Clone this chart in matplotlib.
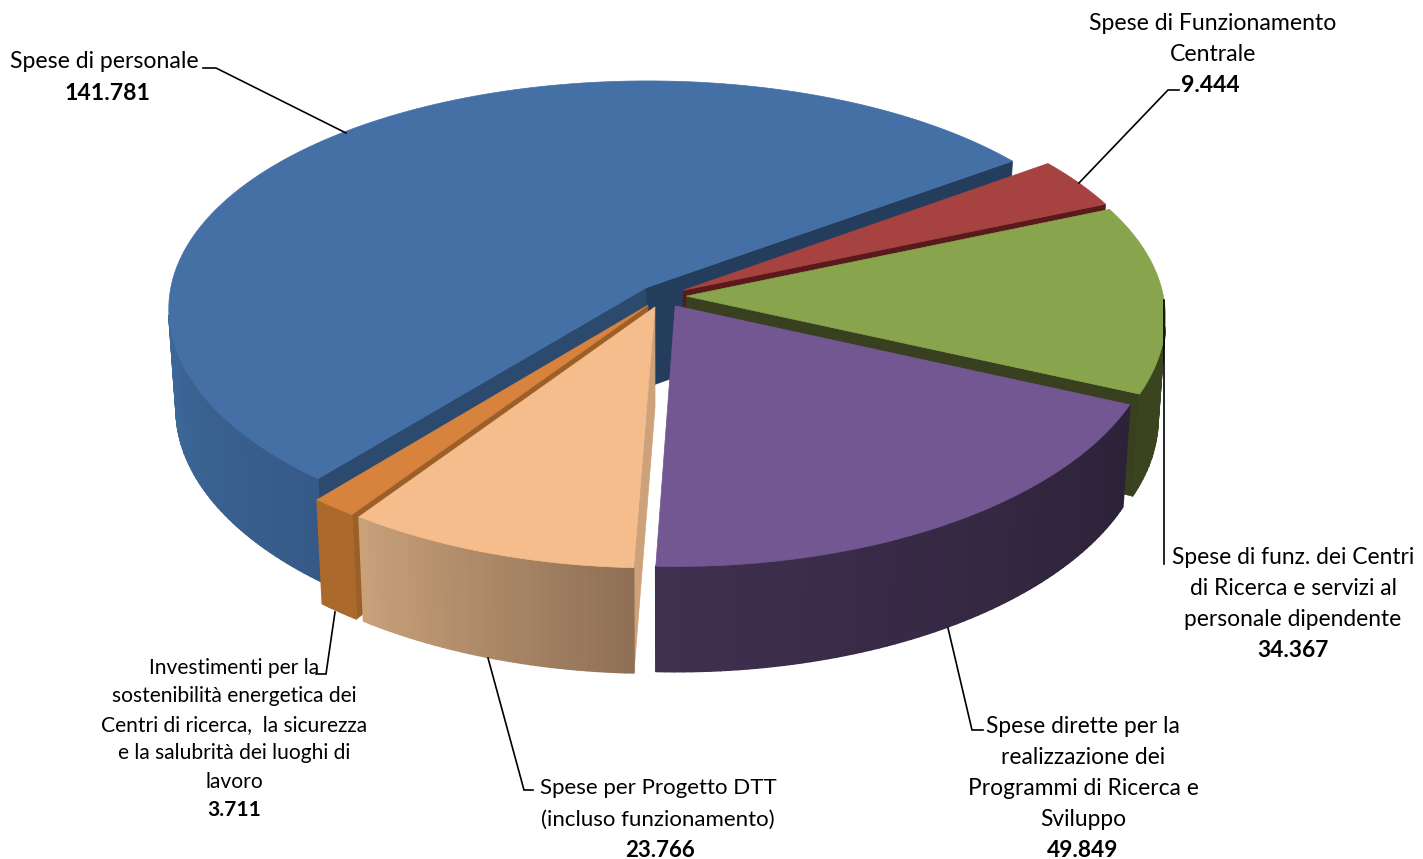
import numpy as np
import matplotlib
matplotlib.use("Agg")
import matplotlib.pyplot as plt
from matplotlib.collections import PolyCollection
from matplotlib.colors import to_rgb
from matplotlib.patches import Polygon

# values, clockwise starting from the red slice
values = [9444, 34367, 49849, 23766, 3711, 141781]
value_labels = ["9.444", "34.367", "49.849", "23.766", "3.711", "141.781"]
label_lines = [
    ["Spese di Funzionamento", "Centrale"],
    ["Spese di funz. dei Centri", "di Ricerca e servizi al", "personale dipendente"],
    ["Spese dirette per la", "realizzazione dei", "Programmi di Ricerca e", "Sviluppo"],
    ["Spese per Progetto DTT", "(incluso funzionamento)"],
    ["Investimenti per la", "sostenibilità energetica dei", "Centri di ricerca,  la sicurezza",
     "e la salubrità dei luoghi di", "lavoro"],
    ["Spese di personale"],
]

top_colors = ["#a64340", "#88a44d", "#725792", "#f6bd8c", "#d7833e", "#4470a6"]
face_colors = ["#5a1a1c", "#384020", "#2c2238", "#cda27a", "#9c5f28", "#2b4a6e"]
end_face_colors = ["#5a1a1c", "#384020", "#2c2238", "#cda27a", "#9c5f28", "#243d5c"]
wall_first = ["#5e2020", "#3a4520", "#2c2238", "#8f7055", "#ab6a2c", "#365a88"]
wall_last = ["#5e2020", "#3a4520", "#403050", "#c8a07a", "#ab6a2c", "#3c6898"]

# back to front
draw_order = [5, 0, 1, 4, 3, 2]

# projection of the disc to the picture, in pixels
CX, CY = 662.5, 296
RX, RY = 477, 230.5
PERSP_X = 0.09
PERSP_Y = 0.107
EXPLODE = 0.05
START = 36
BOTTOM_SCALE = 0.985


def project(u, v):
    return CX + RX * u / (1 + PERSP_X * v), CY - RY * v / (1 + PERSP_Y * v)


def project_bottom(u, v):
    x, y = project(u, v)
    return CX + (x - CX) * BOTTOM_SCALE, y + 100 - 5 * v


def cross(a, b):
    return a[0] * b[1] - a[1] * b[0]


fig = plt.figure(figsize=(14.23, 8.59), dpi=100)
ax = fig.add_axes([0, 0, 1, 1])
ax.set_xlim(0, 1423)
ax.set_ylim(859, 0)
ax.axis("off")

total = sum(values)
edges = START - np.cumsum([0] + values) / total * 360

for i in draw_order:
    a0, a1 = edges[i], edges[i + 1]
    mid = np.radians((a0 + a1) / 2)
    ou, ov = EXPLODE * np.cos(mid), EXPLODE * np.sin(mid)
    t = np.radians(np.linspace(a0, a1, max(int(a0 - a1), 6)))
    us = ou + np.cos(t)
    vs = ov + np.sin(t)
    top = np.array(project(us, vs)).T
    bot = np.array(project_bottom(us, vs)).T
    ctop = np.array(project(ou, ov))
    cbot = np.array(project_bottom(ou, ov))

    # flat cut faces, only those turned towards the viewer
    if cross(top[0] - ctop, bot[0] - top[0]) < 0:
        ax.add_patch(Polygon([ctop, top[0], bot[0], cbot], fc=face_colors[i], ec=face_colors[i], lw=0.5))
    if cross(top[-1] - ctop, bot[-1] - top[-1]) > 0:
        ax.add_patch(Polygon([ctop, top[-1], bot[-1], cbot], fc=end_face_colors[i], ec=end_face_colors[i], lw=0.5))

    # outer wall, strips going from one shade to the other
    quads = []
    for j in range(len(top) - 1):
        if cross(top[j + 1] - top[j], bot[j] - top[j]) < 0:
            quads.append([top[j], top[j + 1], bot[j + 1], bot[j]])
    if quads:
        c0, c1 = np.array(to_rgb(wall_first[i])), np.array(to_rgb(wall_last[i]))
        cols = [c0 + (c1 - c0) * k / max(len(quads) - 1, 1) for k in range(len(quads))]
        ax.add_collection(PolyCollection(quads, facecolors=cols, edgecolors=cols, linewidths=1.2))

    ax.add_patch(Polygon(np.vstack([ctop, top]), fc=top_colors[i], ec=top_colors[i], lw=0.5))

# leader lines
leaders = [
    ([1079, 1168, 1179], [183, 90, 90]),
    ([1164, 1164], [300, 564]),
    ([948, 972, 983], [628, 730, 730]),
    ([488, 524, 533], [658, 790, 790]),
    ([335, 326, 316], [612, 674, 674]),
    ([346, 216, 203], [133, 68, 68]),
]
for lx, ly in leaders:
    ax.plot(lx, ly, color="black", lw=1.2, solid_joinstyle="miter")

# label blocks: centre x, y of first line, line step
blocks = [(1213, 23.5, 31), (1293, 557.5, 31), (1083, 726.5, 31), (658, 788.5, 31), (234, 667.5, 28.6), (104, 61.5, 32)]
sizes = [16.6, 16.4, 16.4, 16.0, 15.1, 16.6]
value_x = [1210, 1293, 1083, 660, 234, 107]
for i, (x, y, step) in enumerate(blocks):
    for k, line in enumerate(label_lines[i]):
        ax.text(x, y + k * step, line, ha="center", va="center", family="Lato", fontsize=sizes[i], color="black")
    ax.text(value_x[i], y + len(label_lines[i]) * step, value_labels[i], ha="center", va="center",
            family="Lato", fontsize=sizes[i], fontweight="bold", color="black")

fig.savefig("out.png", dpi=100)
